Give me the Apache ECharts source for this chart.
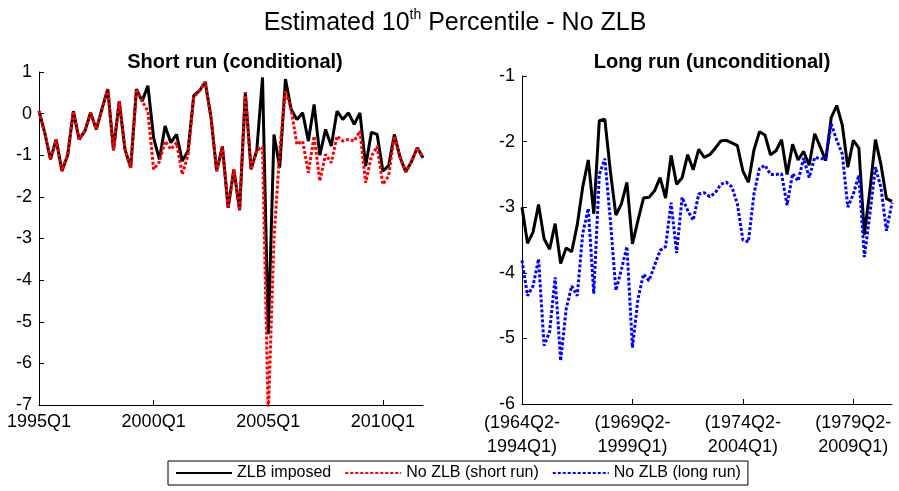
<!DOCTYPE html>
<html>
<head>
<meta charset="utf-8">
<script src="https://cdn.jsdelivr.net/npm/echarts@6/dist/echarts.min.js"></script>
<style>
  html, body { margin: 0; padding: 0; background: #fff; }
  #main { width: 899px; height: 491px; }
</style>
</head>
<body>
<div id="main"></div>
<script>
  // x categories: quarters for the short run panel, rolling 30y windows for the long run panel
  var shortQuarters = [];
  for (var y = 1995; y <= 2011; y++) {
    for (var q = 1; q <= 4; q++) shortQuarters.push(y + 'Q' + q);
  }
  var longWindows = [];
  for (var i = 0; i < 68; i++) {
    var s = 1964 * 4 + 1 + i, e = s + 119;
    longWindows.push('(' + Math.floor(s / 4) + 'Q' + (s % 4 + 1) + '-\n' + Math.floor(e / 4) + 'Q' + (e % 4 + 1) + ')');
  }

  // short run (conditional)
  var zlbShort = [0.06, -0.46, -1.1, -0.62, -1.38, -1.0, 0.06, -0.62, -0.42, 0.02, -0.38, 0.12, 0.59, -0.88, 0.3, -0.86,
    -1.3, 0.59, 0.3, 0.67, -0.58, -1.1, -0.3, -0.7, -0.5, -1.14, -0.9, 0.43, 0.55, 0.76, -0.08, -1.38, -0.79, -2.26, -1.34,
    -2.32, 0.51, -1.34, -0.88, 0.87, -5.3, -0.5, -1.3, 0.83, 0.1, -0.14, 0.02, -0.66, 0.22, -1.0, -0.38, -0.78, 0.06, -0.14,
    0.02, -0.26, 0.02, -1.26, -0.45, -0.5, -1.38, -1.25, -0.5, -1.05, -1.4, -1.15, -0.82, -1.06];
  var noZlbShort = [0.06, -0.46, -1.1, -0.62, -1.38, -1.0, 0.06, -0.62, -0.42, 0.02, -0.38, 0.12, 0.59, -0.88, 0.3, -0.86,
    -1.3, 0.59, 0.3, 0.06, -1.34, -1.16, -0.66, -0.86, -0.7, -1.46, -1.0, 0.39, 0.55, 0.76, -0.08, -1.38, -0.79, -2.26, -1.34,
    -2.32, 0.51, -1.34, -0.88, -0.8, -7.3, -3.0, -0.9, 0.55, 0.1, -0.74, -0.66, -1.42, -0.54, -1.62, -0.98, -1.18, -0.54,
    -0.66, -0.62, -0.66, -0.42, -1.66, -1.02, -0.79, -1.7, -1.5, -0.54, -1.05, -1.4, -1.15, -0.82, -1.06];

  // long run (unconditional)
  var zlbLong = [-3.0, -3.55, -3.38, -2.96, -3.48, -3.64, -3.25, -3.86, -3.62, -3.68, -3.27, -2.69, -2.28, -3.1, -1.68, -1.66,
    -2.45, -3.12, -2.95, -2.62, -3.56, -3.2, -2.86, -2.85, -2.75, -2.55, -2.86, -2.21, -2.65, -2.55, -2.2, -2.43, -2.12, -2.24,
    -2.2, -2.1, -1.99, -1.98, -2.02, -2.06, -2.45, -2.62, -2.13, -1.85, -1.9, -2.2, -2.14, -1.97, -2.5, -2.04, -2.28, -2.15,
    -2.36, -1.88, -2.08, -2.29, -1.63, -1.45, -1.75, -2.39, -1.98, -2.1, -3.42, -2.74, -1.97, -2.35, -2.87, -2.91];
  var noZlbLong = [-3.81, -4.35, -4.2, -3.79, -5.11, -4.9, -4.07, -5.34, -4.55, -4.2, -4.35, -3.4, -3.02, -4.32, -2.5, -2.26,
    -3.2, -4.27, -3.95, -3.6, -5.14, -4.4, -4.02, -4.12, -3.89, -3.66, -3.6, -2.93, -3.7, -2.85, -3.05, -3.2, -2.8, -2.78,
    -2.84, -2.78, -2.65, -2.62, -2.69, -2.95, -3.5, -3.53, -2.8, -2.41, -2.36, -2.5, -2.5, -2.49, -2.97, -2.49, -2.6, -2.25,
    -2.55, -2.24, -2.26, -2.26, -1.73, -1.98, -2.19, -3.0, -2.8, -2.51, -3.76, -3.1, -2.39, -2.7, -3.36, -2.93];

  var font = 'Liberation Sans, Arial, Helvetica, sans-serif';
  var everyTwenty = function (idx) { return idx % 20 === 0; };

  function xAxisFor(grid, cats, lh) {
    return {
      type: 'category', gridIndex: grid, data: cats, boundaryGap: false,
      axisLine: { onZero: false, lineStyle: { color: '#000', width: 1 } },
      axisTick: { inside: true, length: 5, interval: everyTwenty, lineStyle: { color: '#000' } },
      axisLabel: { interval: everyTwenty, color: '#000', fontSize: 18, fontFamily: font, margin: 7, lineHeight: lh },
      splitLine: { show: false }
    };
  }
  function yAxisFor(grid, min, max) {
    return {
      type: 'value', gridIndex: grid, min: min, max: max, interval: 1,
      axisLine: { show: true, lineStyle: { color: '#000', width: 1 } },
      axisTick: { show: true, inside: true, length: 5, lineStyle: { color: '#000' } },
      axisLabel: { color: '#000', fontSize: 18, fontFamily: font, margin: 7 },
      splitLine: { show: false }
    };
  }
  function line(name, grid, data, color, type) {
    return {
      name: name, type: 'line', xAxisIndex: grid, yAxisIndex: grid, data: data,
      symbol: 'none', silent: true, animation: false,
      lineStyle: { color: color, width: type === 'solid' ? 3 : 3, type: type },
      itemStyle: { color: color }
    };
  }

  var chart = echarts.init(document.getElementById('main'));
  chart.setOption({
    animation: false,
    textStyle: { fontFamily: font },
    title: [
      {
        text: '{n|Estimated 10}{s|th}{n| Percentile - No ZLB}',
        left: 450, top: 3, textAlign: 'center',
        textStyle: { fontWeight: 'normal', rich: {
          n: { fontSize: 25, fontWeight: 'normal', color: '#000', fontFamily: font, lineHeight: 31 },
          s: { fontSize: 14, fontWeight: 'normal', color: '#000', fontFamily: font, verticalAlign: 'top', lineHeight: 14 }
        } }
      },
      { text: 'Short run (conditional)', left: 230, top: 47, textAlign: 'center',
        textStyle: { fontSize: 20, fontWeight: 'bold', color: '#000', fontFamily: font } },
      { text: 'Long run (unconditional)', left: 707, top: 47, textAlign: 'center',
        textStyle: { fontSize: 20, fontWeight: 'bold', color: '#000', fontFamily: font } }
    ],
    legend: {
      left: 168, top: 461, width: 580,
      data: ['ZLB imposed', 'No ZLB (short run)', 'No ZLB (long run)'],
      itemWidth: 56, itemHeight: 12, itemGap: 13,
      itemStyle: { opacity: 0 },
      borderColor: '#000', borderWidth: 1, borderRadius: 0, padding: [4, 7],
      textStyle: { fontSize: 16, color: '#000', fontFamily: font }
    },
    grid: [
      { left: 39, top: 72, width: 384, height: 333 },
      { left: 522, top: 76, width: 370, height: 328 }
    ],
    xAxis: [xAxisFor(0, shortQuarters, 20), xAxisFor(1, longWindows, 24)],
    yAxis: [yAxisFor(0, -7, 1), yAxisFor(1, -6, -1)],
    series: [
      line('ZLB imposed', 0, zlbShort, '#000', 'solid'),
      line('No ZLB (short run)', 0, noZlbShort, '#ff0000', [3, 2]),
      line('ZLB imposed', 1, zlbLong, '#000', 'solid'),
      line('No ZLB (long run)', 1, noZlbLong, '#0000ff', [3, 2])
    ]
  });
</script>
</body>
</html>
